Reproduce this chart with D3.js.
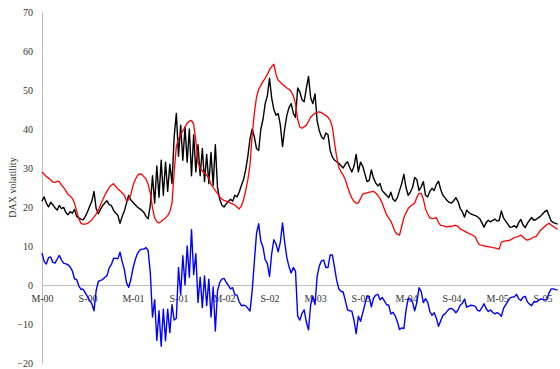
<!DOCTYPE html>
<html>
<head>
<meta charset="utf-8">
<script src="https://cdn.jsdelivr.net/npm/d3@7"></script>
<style>
  html, body { margin: 0; padding: 0; background: #ffffff; }
  svg text { font-family: "Liberation Serif", "Times New Roman", serif; font-size: 10px; fill: #333333; }
</style>
</head>
<body>
<svg id="chart" width="560" height="369"></svg>
<script>
// Half-year labels on the category axis (March / September)
const periodLabels = ["M-00", "S-00", "M-01", "S-01", "M-02", "S-02",
                      "M-03", "S-03", "M-04", "S-04", "M-05", "S-05"];
const pointsPerPeriod = 21;
const yTickValues = [-20, -10, 0, 10, 20, 30, 40, 50, 60, 70];

// Implied DAX volatility (black)
const impliedVol = [
  21.5, 22.6, 21.0, 20.0, 21.2, 20.6, 19.8, 19.2, 20.4, 19.6,
  19.9, 18.6, 18.0, 18.8, 18.4, 19.4, 17.6, 17.2, 16.9, 16.7,
  17.6, 18.8, 20.2, 21.5, 24.0, 19.6, 18.3, 19.4, 20.4, 21.0,
  21.6, 20.6, 20.4, 19.2, 18.4, 17.9, 15.8, 17.6, 19.0, 21.0,
  23.0, 21.8, 21.2, 20.6, 20.0, 19.6, 19.2, 18.6, 17.6, 17.0,
  20.5, 28.0, 21.0, 30.5, 22.5, 32.0, 23.0, 31.5, 24.0, 31.0,
  26.0, 38.0, 44.0, 33.0, 41.0, 32.0, 40.5, 31.5, 40.0, 28.0,
  38.5, 29.0, 36.0, 28.0, 35.0, 26.5, 33.5, 26.0, 34.0, 25.5,
  36.0, 25.0, 22.0, 20.5, 20.0, 20.8, 21.4, 22.0, 21.5, 23.0,
  22.6, 23.8, 25.5, 27.0, 29.5, 33.0, 37.5, 40.0, 38.0, 35.0,
  34.5, 40.0, 42.5, 46.5, 48.5, 53.0, 48.0, 45.0, 43.5, 44.0,
  41.0, 35.5, 40.0, 43.5, 45.5, 46.5, 44.0, 43.0, 50.5, 49.5,
  47.5, 47.0, 50.5, 53.5, 48.0, 46.5, 49.0, 42.0, 39.5, 38.0,
  37.4, 39.0, 38.5, 34.5, 32.8, 32.0, 31.6, 31.2, 30.6, 30.0,
  31.0, 31.6, 30.2, 29.0, 30.5, 33.5, 29.0, 31.5, 30.5, 28.5,
  26.5, 26.8, 29.5, 27.4, 26.2, 25.4, 26.0, 24.2, 23.6, 23.0,
  22.4, 23.8, 22.0, 21.5, 22.4, 24.2, 26.0, 28.4, 25.0, 23.0,
  23.8, 25.0, 27.6, 27.0, 24.2, 25.2, 26.5, 23.0, 22.6, 24.0,
  24.8, 24.2, 25.8, 26.6, 24.5, 23.0, 22.4, 21.6, 21.2, 21.0,
  21.6, 22.4, 21.4, 19.6, 18.8, 17.4, 19.2, 18.6, 18.2, 18.0,
  17.8, 17.5, 17.0, 16.0, 14.8, 16.0, 16.6, 16.2, 16.6, 16.9,
  16.4, 16.6, 19.0, 17.2, 16.4, 15.6, 14.8, 14.9, 15.2, 14.7,
  16.0, 16.8, 15.4, 14.7, 15.8, 16.6, 17.3, 16.6, 16.8, 17.2,
  17.6, 18.2, 18.8, 19.2, 17.8, 16.4, 16.0, 15.8, 15.6
];

// Model volatility (red)
const modelVol = [
  29.0, 28.4, 27.8, 27.4, 27.0, 26.4, 26.3, 26.6, 26.5, 25.6,
  25.0, 24.2, 23.2, 22.8, 22.2, 21.0, 19.0, 17.0, 15.8, 15.6,
  15.6, 15.8, 16.2, 16.7, 17.4, 18.2, 19.2, 20.6, 21.8, 23.0,
  24.0, 25.0, 25.6, 26.0, 25.3, 24.6, 24.2, 23.6, 23.0, 21.6,
  21.8, 23.2, 25.5, 27.0, 28.0, 28.5, 28.4, 27.8, 27.2, 25.8,
  23.5, 19.8, 17.2, 16.3, 15.9, 16.3, 16.8, 17.2, 17.8, 18.8,
  21.0, 29.0, 35.5, 37.5, 38.6, 39.5, 40.5, 41.5, 42.0, 42.2,
  41.2, 37.0, 31.5, 30.0, 29.2, 28.8, 28.2, 27.5, 25.8, 25.0,
  24.2, 23.5, 22.6, 22.0, 21.7, 21.5, 21.3, 21.0, 20.8, 20.5,
  20.0, 19.5, 20.2, 21.8, 24.2, 27.0, 30.8, 38.5, 44.0, 48.2,
  50.2, 51.2, 52.2, 53.0, 54.0, 55.2, 56.0, 56.6, 54.0, 52.5,
  52.0, 51.4, 51.0, 50.5, 50.2, 49.6, 48.5, 46.5, 42.5, 40.5,
  40.2, 40.6, 41.0, 42.0, 43.0, 43.6, 44.0, 44.3, 44.4, 44.2,
  43.8, 43.5, 43.0, 42.2, 40.5, 36.5, 32.8, 30.2, 29.0, 28.2,
  27.0, 25.2, 23.6, 22.3, 21.4, 21.0, 21.0, 22.2, 23.3, 23.5,
  23.6, 23.8, 23.9, 24.0, 23.6, 23.0, 22.2, 21.0, 19.5, 18.0,
  17.2, 16.4, 15.0, 13.6, 13.0, 12.8, 15.0, 17.2, 18.5, 19.6,
  20.2, 20.6, 21.0, 22.5, 23.5, 23.5, 22.0, 19.5, 18.2, 17.2,
  17.0, 17.1, 17.3, 16.0, 15.3, 15.2, 15.0, 14.9, 15.1, 15.0,
  15.2, 15.3, 15.0, 14.4, 14.1, 13.8, 13.5, 13.2, 13.0, 12.7,
  12.3, 11.0, 10.3, 10.2, 10.0, 9.9, 9.8, 9.8, 9.6, 9.5,
  9.3, 9.2, 11.0, 11.2, 11.3, 11.4, 11.5, 11.8, 12.2, 12.3,
  12.5, 12.8, 12.3, 11.8, 11.5, 11.7, 12.0, 12.3, 12.4, 13.2,
  14.0, 14.5, 15.0, 15.5, 15.8, 15.4, 15.0, 14.6, 14.3
];

// Spread between the two volatilities (blue)
const volSpread = [
  8.2, 6.0, 5.4, 7.0, 7.2, 5.8, 5.6, 6.6, 7.6, 6.4,
  5.6, 5.4, 5.2, 4.6, 3.6, 1.6, 1.4, -0.2, -1.1, -1.1,
  -2.0, -3.0, -4.0, -4.8, -6.6, -1.4, 0.9, 1.2, 1.4, 2.0,
  2.4, 4.4, 5.2, 6.8, 6.9, 6.7, 8.4, 6.0, 4.0, 0.6,
  -0.6, 1.4, 4.3, 6.4, 8.0, 8.9, 9.2, 9.2, 9.6, 8.8,
  3.0, -8.2, -3.8, -14.2, -6.6, -15.7, -6.2, -14.3, -6.2, -12.2,
  -5.0, -9.0, -8.5, 4.5, -2.4, 7.5, 0.0, 10.0, 2.0, 14.2,
  2.7, 8.0, -4.5, 2.0, -5.8, 2.3, -5.3, 1.5, -8.2, -0.5,
  -11.8, -1.5, 0.6, 1.5, 1.7, 0.7, -0.1, -1.0, -0.7, -2.5,
  -2.6, -4.3, -5.3, -5.2, -5.3, -6.0, -6.7, -1.5, 6.0, 13.2,
  15.7, 11.2, 9.7, 6.5, 5.5, 2.2, 8.0, 11.6, 10.5, 8.5,
  11.0, 15.9, 11.0, 7.0, 4.7, 3.1, 4.5, 3.5, -8.0, -9.0,
  -7.3, -6.4, -9.5, -11.5, -5.0, -2.9, -5.0, 2.3, 4.9, 6.2,
  6.4, 4.5, 4.5, 7.7, 7.7, 4.5, 1.2, -1.0, -1.6, -1.8,
  -4.0, -6.4, -6.6, -6.7, -9.1, -12.5, -8.0, -9.3, -7.2, -5.0,
  -2.9, -3.0, -5.6, -3.4, -2.6, -2.4, -3.8, -3.2, -4.1, -5.0,
  -5.2, -7.4, -7.0, -7.9, -9.4, -11.4, -11.0, -11.2, -6.5, -3.4,
  -3.6, -4.4, -6.6, -4.5, -0.7, -1.7, -4.5, -3.5, -4.4, -6.8,
  -7.8, -7.1, -8.5, -10.6, -9.2, -7.8, -7.4, -6.7, -6.1, -6.0,
  -6.4, -7.1, -6.4, -5.2, -4.7, -3.6, -5.7, -5.4, -5.2, -5.3,
  -5.5, -6.5, -6.7, -5.8, -4.8, -6.1, -6.8, -6.4, -7.0, -7.4,
  -7.1, -7.4, -8.0, -6.0, -5.1, -4.2, -3.3, -3.1, -3.0, -2.4,
  -3.5, -4.0, -3.1, -2.9, -4.3, -4.9, -5.3, -4.3, -4.4, -4.0,
  -3.6, -3.7, -3.8, -3.7, -2.0, -1.0, -1.0, -1.2, -1.3
];

const svg = d3.select("#chart");
const plot = { left: 42, right: 557.7, top: 12, bottom: 363 };
const n = impliedVol.length;

const x = d3.scaleLinear().domain([0, n - 1]).range([plot.left, plot.right]);
const y = d3.scaleLinear().domain([-20, 70]).range([plot.bottom, plot.top]);

// Vertical value axis
const yAxis = svg.append("g")
  .attr("transform", `translate(${plot.left},0)`)
  .call(d3.axisLeft(y).tickValues(yTickValues).tickSize(0).tickPadding(9));
yAxis.select(".domain").attr("stroke", "#bfbfbf").attr("stroke-width", 1);
yAxis.selectAll("text").attr("font-family", null).attr("font-size", null);

// Horizontal category axis sitting on zero
const xTickIdx = periodLabels.map((_, k) => k * pointsPerPeriod);
const xAxis = svg.append("g")
  .attr("transform", `translate(0,${y(0)})`)
  .call(d3.axisBottom(x).tickValues(xTickIdx)
    .tickFormat((d, k) => periodLabels[k]).tickSize(0).tickPadding(10));
xAxis.select(".domain").attr("d", `M${plot.left},0.5H560`).attr("stroke", "#bfbfbf").attr("stroke-width", 1);
xAxis.selectAll("text").attr("font-family", null).attr("font-size", null);

// Axis title
svg.append("text")
  .attr("transform", `translate(12.5,${(plot.top + plot.bottom) / 2}) rotate(-90)`)
  .attr("text-anchor", "middle")
  .attr("dy", "0.35em")
  .text("DAX volatility");

const line = d3.line().x((d, i) => x(i)).y(d => y(d));

const series = [
  { values: impliedVol, color: "#000000", width: 1.4 },
  { values: modelVol, color: "#ff0000", width: 1.3 },
  { values: volSpread, color: "#0000ff", width: 1.4 }
];

svg.append("g").selectAll("path")
  .data(series)
  .join("path")
  .attr("fill", "none")
  .attr("stroke", d => d.color)
  .attr("stroke-width", d => d.width)
  .attr("stroke-linejoin", "round")
  .attr("d", d => line(d.values));
</script>
</body>
</html>
